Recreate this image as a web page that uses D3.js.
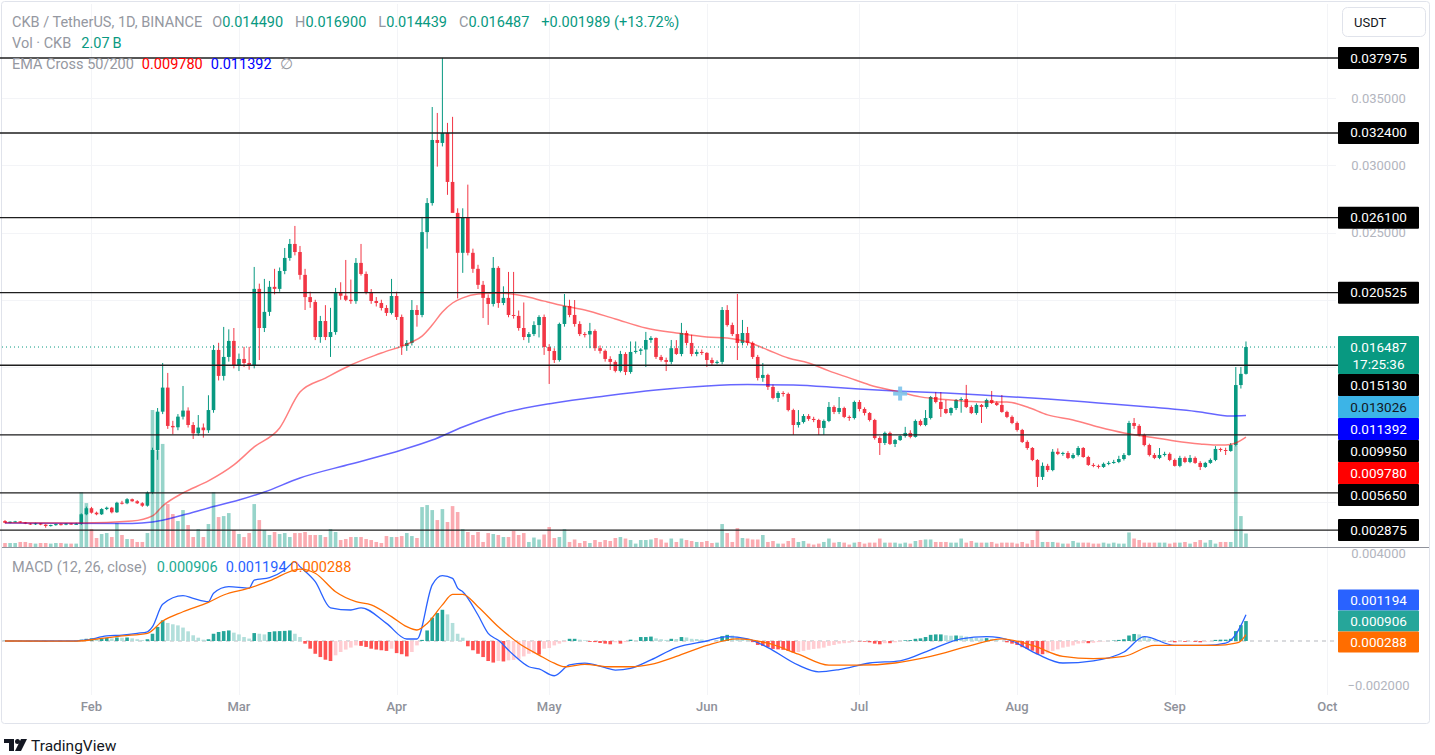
<!DOCTYPE html>
<html><head><meta charset="utf-8">
<script src="https://cdn.jsdelivr.net/npm/d3@7"></script>
<style>
html,body{margin:0;padding:0;background:#fff;}
svg{display:block;font-family:Roboto,"Noto Sans",sans-serif;}
</style></head><body>
<svg id="c" width="1435" height="755"></svg>
<script>
// ---------------- DATA ----------------
const startDate = "2024-01-15";
const endDate = "2024-10-01";
// [open, high, low, close] daily CKB/USDT
const ohlc = [
[.00355,.00362,.00338,.00342],[.00342,.00352,.00338,.00350],[.00350,.00356,.00345,.00352],[.00352,.00355,.00342,.00345],
[.00345,.00348,.00332,.00336],[.00336,.00340,.00326,.00330],[.00330,.00342,.00326,.00338],[.00338,.00340,.00324,.00328],
[.00328,.00332,.00305,.00318],[.00318,.00328,.00314,.00325],[.00325,.00336,.00320,.00332],[.00332,.00338,.00322,.00328],
[.00328,.00340,.00324,.00336],[.00336,.00340,.00326,.00332],[.00332,.00342,.00328,.00334],[.00334,.00412,.00325,.00405],
[.00405,.00462,.00398,.00450],[.00450,.00460,.00410,.00417],[.00417,.00425,.00398,.00405],[.00405,.00450,.00400,.00444],
[.00444,.00462,.00436,.00454],[.00454,.00460,.00412,.00420],[.00420,.00498,.00415,.00491],[.00491,.00505,.00478,.00487],
[.00487,.00525,.00480,.00517],[.00517,.00522,.00498,.00502],[.00502,.00510,.00482,.00487],[.00487,.00495,.00460,.00469],
[.00469,.00575,.00462,.00566],[.00566,.00900,.00555,.00883],[.00883,.01195,.00810,.01168],[.01168,.01530,.01150,.01347],
[.01347,.01456,.01040,.01062],[.01062,.01100,.01000,.01052],[.01052,.01150,.01030,.01131],[.01131,.01359,.01110,.01176],
[.01176,.01200,.01050,.01069],[.01069,.01090,.00965,.01007],[.01007,.01143,.00990,.01050],[.01050,.01080,.00975,.01030],
[.01030,.01290,.01010,.01180],[.01180,.01664,.01160,.01627],[.01627,.01680,.01400,.01434],[.01434,.01798,.01400,.01575],
[.01575,.01780,.01540,.01694],[.01694,.01790,.01490,.01508],[.01508,.01600,.01470,.01560],[.01560,.01650,.01500,.01530],
[.01530,.01650,.01480,.01508],[.01508,.02244,.01490,.02081],[.02081,.02120,.01552,.01790],[.01790,.02155,.01760,.01910],
[.01910,.02140,.01880,.02096],[.02096,.02230,.02040,.02081],[.02081,.02240,.02060,.02214],[.02214,.02385,.02190,.02311],
[.02311,.02452,.02290,.02415],[.02415,.02549,.02330,.02355],[.02355,.02400,.02150,.02185],[.02185,.02230,.01924,.02020],
[.02020,.02060,.01940,.01983],[.01983,.02000,.01700,.01723],[.01723,.01880,.01680,.01842],[.01842,.01960,.01700,.01723],
[.01723,.01940,.01575,.01760],[.01760,.02088,.01740,.02050],[.02050,.02130,.02000,.02030],[.02030,.02296,.01990,.02000],
[.02000,.02150,.01970,.01990],[.01990,.02310,.01970,.02274],[.02274,.02415,.02180,.02192],[.02192,.02210,.02040,.02058],
[.02058,.02080,.01970,.01991],[.01991,.02020,.01950,.01976],[.01976,.02000,.01920,.01939],[.01939,.01960,.01880,.01902],
[.01902,.02155,.01890,.02028],[.02028,.02060,.01850,.01872],[.01872,.01890,.01590,.01656],[.01656,.01700,.01620,.01679],
[.01679,.01998,.01660,.01924],[.01924,.01960,.01800,.01887],[.01887,.02616,.01870,.02503],[.02503,.02756,.02380,.02719],
[.02719,.03433,.02700,.03188],[.03188,.03389,.02990,.03166],[.03166,.03798,.03140,.03240],[.03240,.03315,.02780,.02876],
[.02876,.03360,.02800,.02646],[.02646,.02680,.02010,.02349],[.02349,.02680,.02200,.02609],[.02609,.02856,.02330,.02349],
[.02349,.02380,.02200,.02230],[.02230,.02260,.02080,.02111],[.02111,.02140,.01864,.02014],[.02014,.02040,.01813,.01969],
[.01969,.02318,.01950,.02237],[.02237,.02250,.01940,.01976],[.01976,.02100,.01960,.02014],[.02014,.02207,.01870,.01887],
[.01887,.02207,.01860,.01880],[.01880,.01920,.01770,.01790],[.01790,.01980,.01700,.01723],[.01723,.01760,.01680,.01745],
[.01745,.01840,.01730,.01812],[.01812,.01885,.01720,.01872],[.01872,.01890,.01590,.01649],[.01649,.01670,.01374,.01619],
[.01619,.01640,.01530,.01552],[.01552,.01830,.01540,.01820],[.01820,.02043,.01800,.01954],[.01954,.02000,.01870,.01887],
[.01887,.01998,.01800,.01820],[.01820,.01840,.01730,.01745],[.01745,.01760,.01720,.01742],[.01742,.01828,.01640,.01768],
[.01768,.01780,.01620,.01640],[.01640,.01660,.01600,.01620],[.01620,.01630,.01540,.01560],[.01560,.01580,.01478,.01538],
[.01538,.01550,.01460,.01471],[.01471,.01620,.01460,.01597],[.01597,.01610,.01440,.01463],[.01463,.01690,.01450,.01612],
[.01612,.01690,.01600,.01620],[.01620,.01640,.01590,.01630],[.01630,.01761,.01500,.01701],[.01701,.01730,.01680,.01716],
[.01716,.01720,.01560,.01575],[.01575,.01590,.01540,.01552],[.01552,.01570,.01470,.01538],[.01538,.01701,.01520,.01640],
[.01640,.01700,.01590,.01597],[.01597,.01828,.01580,.01753],[.01753,.01770,.01660,.01679],[.01679,.01740,.01580,.01597],
[.01597,.01630,.01580,.01612],[.01612,.01630,.01590,.01605],[.01605,.01610,.01500,.01552],[.01552,.01570,.01510,.01530],
[.01530,.01550,.01520,.01538],[.01538,.01946,.01520,.01924],[.01924,.01960,.01800,.01812],[.01812,.01830,.01730,.01745],
[.01745,.02043,.01552,.01679],[.01679,.01850,.01660,.01753],[.01753,.01798,.01660,.01679],[.01679,.01690,.01560,.01575],
[.01575,.01590,.01400,.01419],[.01419,.01530,.01390,.01441],[.01441,.01450,.01330,.01352],[.01352,.01370,.01260,.01270],
[.01270,.01320,.01240,.01307],[.01307,.01320,.01280,.01300],[.01300,.01310,.01170,.01180],[.01180,.01190,.00995,.01069],
[.01069,.01180,.01050,.01091],[.01091,.01150,.01080,.01136],[.01136,.01150,.01100,.01114],[.01114,.01130,.01090,.01106],
[.01106,.01115,.00995,.01047],[.01047,.01110,.00995,.01099],[.01099,.01240,.01090,.01203],[.01203,.01215,.01150,.01166],
[.01166,.01277,.01150,.01195],[.01195,.01205,.01120,.01129],[.01129,.01140,.01100,.01121],[.01121,.01250,.01110,.01240],
[.01240,.01255,.01170,.01188],[.01188,.01200,.01140,.01158],[.01158,.01165,.01095,.01106],[.01106,.01115,.00960,.00972],
[.00972,.00985,.00846,.00935],[.00935,.01020,.00920,.01010],[.01010,.01020,.00920,.00928],[.00928,.00965,.00905,.00957],
[.00957,.00995,.00950,.00987],[.00987,.01055,.00975,.01010],[.01010,.01030,.00970,.00980],[.00980,.01110,.00975,.01099],
[.01099,.01110,.01060,.01069],[.01069,.01180,.01060,.01121],[.01121,.01285,.01110,.01277],[.01277,.01314,.01230,.01240],
[.01240,.01314,.01129,.01188],[.01188,.01255,.01150,.01158],[.01158,.01200,.01140,.01195],[.01195,.01262,.01180,.01255],
[.01255,.01275,.01160,.01262],[.01262,.01367,.01195,.01203],[.01203,.01215,.01150,.01158],[.01158,.01230,.01145,.01218],
[.01218,.01225,.01084,.01203],[.01203,.01265,.01190,.01255],[.01255,.01322,.01225,.01233],[.01233,.01245,.01210,.01218],
[.01218,.01292,.01160,.01166],[.01166,.01175,.01120,.01129],[.01129,.01140,.01075,.01084],[.01084,.01095,.01020,.01032],
[.01032,.01040,.00935,.00943],[.00943,.00955,.00885,.00898],[.00898,.00905,.00800,.00809],[.00809,.00815,.00608,.00683],
[.00683,.00790,.00660,.00765],[.00765,.00780,.00720,.00734],[.00734,.00890,.00725,.00870],[.00870,.00895,.00845,.00854],
[.00854,.00870,.00840,.00861],[.00861,.00875,.00815,.00824],[.00824,.00860,.00815,.00846],[.00846,.00912,.00835,.00898],
[.00898,.00905,.00825,.00831],[.00831,.00840,.00765,.00772],[.00772,.00785,.00755,.00765],[.00765,.00775,.00745,.00757],
[.00757,.00790,.00750,.00780],[.00780,.00800,.00770,.00787],[.00787,.00810,.00780,.00794],[.00794,.00840,.00785,.00816],
[.00816,.00860,.00805,.00846],[.00846,.01100,.00840,.01084],[.01084,.01121,.01040,.01062],[.01062,.01075,.00985,.00995],
[.00995,.01005,.00910,.00920],[.00920,.00930,.00835,.00846],[.00846,.00860,.00815,.00824],[.00824,.00898,.00815,.00846],
[.00846,.00870,.00835,.00854],[.00854,.00865,.00800,.00809],[.00809,.00820,.00760,.00765],[.00765,.00840,.00755,.00824],
[.00824,.00835,.00785,.00794],[.00794,.00846,.00785,.00824],[.00824,.00835,.00780,.00787],[.00787,.00800,.00734,.00757],
[.00757,.00795,.00750,.00787],[.00787,.00820,.00780,.00809],[.00809,.00912,.00800,.00891],[.00891,.00900,.00870,.00883],
[.00883,.00900,.00846,.00876],[.00876,.00935,.00870,.00920],[.00920,.01500,.00910,.01366],[.01366,.01500,.01340,.01449],
[.01449,.01690,.014439,.016487]
];
// volume in billions CKB
const volume = [
0.61,0.61,0.61,0.77,0.77,0.61,0.52,0.61,0.61,0.52,0.61,0.61,0.52,0.52,0.52,8.42,6.73,2.75,1.38,1.99,
2.14,1.53,3.67,1.84,1.22,1.22,0.77,0.77,2.14,21.0,14.8,15.8,6.58,5.05,3.98,5.66,3.37,1.53,2.75,1.53,
3.52,8.42,4.59,4.74,5.2,2.6,1.99,1.53,2.14,6.58,4.13,2.6,1.84,2.3,1.99,2.14,1.53,2.14,2.14,2.3,
1.84,1.84,1.84,1.53,2.75,2.3,1.07,1.22,1.53,1.53,1.53,1.22,1.07,0.77,0.61,1.68,1.53,1.53,1.68,2.14,
1.68,1.38,6.12,6.43,5.66,4.13,5.81,3.83,6.27,5.36,2.75,2.3,1.84,2.3,0.77,2.14,1.99,1.84,1.53,1.53,
2.45,1.84,2.14,0.77,1.45,1.15,1.91,3.06,1.38,1.53,2.75,0.77,1.15,0.61,0.92,0.61,1.07,0.77,1.07,0.92,
1.38,1.53,1.3,1.07,0.52,1.07,1.07,1.15,1.38,1.15,0.67,1.3,0.77,1.3,1.07,0.92,0.77,0.77,0.92,0.61,
0.67,3.52,2.14,0.77,2.9,1.38,1.3,1.15,1.15,1.84,0.77,0.92,0.52,0.52,0.92,1.38,0.77,0.92,0.52,0.37,
0.52,0.77,1.3,0.67,0.77,0.67,0.37,0.67,0.77,0.52,0.67,0.67,1.3,0.67,0.67,0.67,0.52,0.67,0.52,0.92,
1.07,1.15,1.15,0.77,0.77,0.77,0.67,0.67,1.3,0.67,0.92,0.67,0.67,0.67,0.77,0.52,0.67,0.67,0.67,0.52,
0.77,0.52,1.07,2.6,0.77,0.77,0.77,0.67,0.52,0.52,0.92,0.67,0.67,0.67,0.52,0.52,0.67,0.52,0.67,0.52,
0.52,2.23,1.3,1.07,0.67,0.67,0.67,0.67,0.67,0.52,0.67,0.67,0.77,0.52,0.77,1.07,0.67,1.07,0.52,0.77,
0.77,0.77,15.6,4.74,2.07
];
// EMA 50 / EMA 200: [day index, value]
const ema50 = [[0,.00343],[15,.00341],[25,.00355],[29,.00393],[31,.00467],[35,.00564],[40,.00653],[45,.00772],
[49,.00906],[54,.01047],[58,.01314],[63,.01418],[68,.01515],[74,.01604],[80,.01686],[82,.01730],[84,.01812],
[86,.01909],[88,.01976],[90,.02014],[93,.02043],[97,.02050],[102,.02028],[106,.01990],[110,.01954],[114,.01924],
[120,.01857],[126,.01790],[132,.01753],[138,.01723],[142,.01716],[146,.01686],[150,.01627],[154,.01567],[158,.01530],
[162,.01471],[166,.01419],[170,.01367],[175,.01322],[180,.01278],[186,.01255],[192,.01240],[197,.01240],[201,.01203],
[205,.01144],[210,.01106],[215,.01054],[220,.01010],[225,.00980],[230,.00950],[235,.00928],[238,.00920],[240,.00920],
[242,.00935],[244,.00978]];
const ema200 = [[0,.00340],[25,.00337],[29,.00348],[35,.00400],[40,.00452],[46,.00511],[51,.00571],[58,.00675],
[68,.00779],[78,.00883],[84,.00957],[90,.01054],[98,.01158],[108,.01233],[118,.01285],[128,.01329],[138,.01359],
[146,.01370],[155,.01367],[165,.01344],[175,.01322],[185,.01307],[195,.01285],[205,.01262],[215,.01233],[225,.01203],
[235,.01166],[241,.01136],[244,.011392]];
// MACD (12,26) line and signal: [day index, value]
const macdLine = [[0,0],[14,0],[16,.000045],[20,.00023],[23.5,.00027],[26,.00035],[28.4,.00042],[29.6,.00065],
[31.6,.00167],[35,.00206],[37.4,.00194],[40.6,.00179],[41.8,.00217],[44.7,.00247],[48,.0024],[49.6,.00277],
[52.8,.00288],[55.3,.00323],[57,.0036],[58.6,.00338],[61,.0027],[64.3,.00151],[68.4,.00141],[70.8,.00151],
[75.7,.0008],[79.4,.00009],[81.4,.00009],[84.7,.00255],[86.7,.00297],[88,.00285],[89.6,.0024],[90.8,.00224],
[93.6,.00118],[95.7,.00035],[97.7,.00003],[100,-.00064],[103,-.00117],[105,-.00127],[108.3,-.00158],[111.6,-.00109],
[114.8,-.00101],[118,-.00121],[120.5,-.00132],[123,-.00124],[127,-.00086],[132,-.0003],[138,0],[142,.0002],
[146,.0001],[150,-.0003],[156,-.0011],[160,-.0014],[164,-.0013],[170,-.001],[176,-.0009],[182,-.0004],[188,.0001],
[193,.0002],[198,0],[203,-.0006],[208,-.001],[214,-.0009],[220,-.0005],[224,.0002],[230,-.0002],[236,-.0002],
[240,-.0001],[242,.0003],[243,.0007],[244,.001194]];
const signalLine = [[0,0],[14.3,-.00001],[19.4,.00012],[23.5,.00023],[28.4,.00035],[31.6,.00091],[35,.00133],
[40.6,.00176],[43.9,.00209],[48,.0024],[52.8,.00273],[58.6,.00327],[61,.00308],[65.9,.00224],[69.2,.00179],
[72.4,.00164],[76.5,.00111],[79.8,.00065],[81.8,.0005],[83.9,.0008],[86.3,.00164],[88.8,.00212],[90.8,.00212],
[93.6,.00156],[97.7,.00065],[101.8,-.0001],[105,-.00064],[108.3,-.00101],[110.8,-.00117],[114.8,-.00106],
[119.7,-.00117],[123.8,-.00117],[127,-.00106],[132,-.0007],[138,-.0002],[144,.0001],[150,-.0001],[156,-.0006],
[162,-.0011],[168,-.0011],[175,-.001],[182,-.0007],[190,-.0002],[196,.0001],[202,-.0002],[208,-.0007],[214,-.0008],
[220,-.0007],[226,-.0002],[232,-.0002],[238,-.0002],[242,-.0001],[243,0],[244,.000288]];
const macdHist = [
.00001,-.00001,.00001,0,-.00002,-.00003,-.00002,-.00003,-.00004,-.00003,-.00002,-.00002,-.00001,-.00001,0,
.00006,.0001,.00012,.0001,.00012,.00014,.00012,.00016,.00015,.00016,.00012,.00008,.00004,.00008,
.00033,.00064,.00094,.00082,.00076,.00071,.00061,.00044,.00026,.00015,.00006,.00008,.00033,.00041,.00045,.00048,
.00038,.0003,.00018,.00011,.00036,.00033,.0003,.00041,.00044,.00045,.00046,.00048,.00033,.00018,-.00012,-.00035,
-.00058,-.00073,-.00085,-.00091,-.00065,-.0005,-.00039,-.0003,-.0002,-.00022,-.00027,-.00035,-.00039,-.00042,
-.00045,-.00035,-.00055,-.0006,-.0007,-.0005,-.0002,.00005,.00048,.00106,.00127,.00142,.00121,.00082,.00033,
.00015,-.00024,-.00042,-.00058,-.00073,-.00091,-.00098,-.00091,-.00093,-.00088,-.00086,-.00083,-.0007,-.00058,
-.00056,-.00062,-.00035,-.00032,-.0002,-.00012,-.00005,.0001,.0001,.00006,.00003,-.00004,-.00005,-.00009,-.00012,
-.00015,-.00006,-.00012,-.00005,.00006,.00002,.00018,
.00018,.0002,.00012,.00008,.00005,.0001,.00009,.00018,.00016,.0001,.00009,.00007,.00002,0,.00001,.00022,.00028,
.00025,.00018,.00014,.00008,-.00005,-.00018,-.00022,-.00028,-.00036,-.00038,-.0004,-.00045,-.00052,-.0005,-.00045,
-.0004,-.00036,-.00034,-.0003,-.00022,-.00018,-.00012,-.0001,-.00008,-.00002,-.00002,-.00003,-.00006,-.00012,
-.00015,-.0001,-.0001,-.00006,-.00002,.00003,.00004,.0001,.00012,.00018,.00028,.0003,.0003,.00026,.00024,.00025,
.00024,.0002,.00015,.00014,.00012,.00013,.0001,.00006,0,-.00006,-.00012,-.00018,-.00028,-.00036,-.00044,-.0006,
-.0006,-.00056,-.00045,-.00038,-.0003,-.00026,-.0002,-.00012,-.0001,-.0001,-.00008,-.00005,-.00002,0,.00002,.00005,
.00008,.00025,.00032,.0003,.00022,.00012,.00006,.00004,.00002,-.00002,-.00006,-.00003,-.00004,-.00002,-.00004,
-.00006,-.00004,-.00002,.00005,.00006,.00006,.0001,.00045,.00072,.000906];
const levels = [0.037975,0.0324,0.0261,0.020525,0.01513,0.00995,0.00565,0.002875];
const priceTicks = [0.035,0.030,0.025,0.020,0.015,0.010,0.005];
const macdTicks = [0.004,-0.002];
const monthTicks = ["2024-02-01","2024-03-01","2024-04-01","2024-05-01","2024-06-01","2024-07-01","2024-08-01","2024-09-01","2024-10-01"];
const monthNames = ["Feb","Mar","Apr","May","Jun","Jul","Aug","Sep","Oct"];
const lastPrice = 0.016487, countdown = "17:25:36";
const ema50Last = 0.009780, ema200Last = 0.011392;
const markerPrice = 0.013026, markerIndex = 176;
const macdLast = 0.001194, signalLast = 0.000288, histLast = 0.000906;

// ---------------- LAYOUT ----------------
const plotR = 1336, axX = 1338, axW = 81;
const pane1 = {top: 4, bottom: 547};
const pane2 = {top: 548, bottom: 695};
const UP = "#089981", DN = "#f23645";
const svg = d3.select("#c");
const t0 = new Date(startDate + "T00:00:00Z");
const x = d3.scaleUtc().domain([t0, new Date(endDate+"T00:00:00Z")]).range([5, 5 + 260*5.086]);
const xi = i => x(d3.utcDay.offset(t0, i));
const y = d3.scaleLinear().domain([0.002875, 0.037975]).range([530.1, 58]);
const yV = d3.scaleLinear().domain([0, 21]).range([pane1.bottom, pane1.bottom - 137]);
const yM = d3.scaleLinear().domain([-0.002, 0.004]).range([685, 553]);

// frame
svg.append("rect").attr("x",1.5).attr("y",1.5).attr("width",1428).attr("height",722)
  .attr("fill","#fff").attr("stroke","#e0e3eb").attr("rx",3);

const defs = svg.append("defs");
defs.append("clipPath").attr("id","p1").append("rect").attr("x",2).attr("y",pane1.top).attr("width",plotR-2).attr("height",pane1.bottom-pane1.top);
defs.append("clipPath").attr("id","p2").append("rect").attr("x",2).attr("y",pane2.top).attr("width",plotR-2).attr("height",pane2.bottom-pane2.top);

// grid
const grid = svg.append("g").attr("stroke","#f3f4f7").attr("stroke-width",1);
monthTicks.forEach(m=>{ const gx = Math.round(x(new Date(m+"T00:00:00Z")))+0.5;
  grid.append("line").attr("x1",gx).attr("x2",gx).attr("y1",pane1.top).attr("y2",pane2.bottom); });
priceTicks.forEach(p=>{ const gy=Math.round(y(p))+0.5; grid.append("line").attr("x1",2).attr("x2",plotR).attr("y1",gy).attr("y2",gy); });

// ------------- price pane -------------
const g1 = svg.append("g").attr("clip-path","url(#p1)");
g1.append("g").selectAll("rect").data(volume).join("rect")
  .attr("x",(d,i)=>xi(i)-1.8).attr("width",3.6)
  .attr("y",d=>yV(d)).attr("height",d=>pane1.bottom - yV(d))
  .attr("fill",(d,i)=> ohlc[i][3] >= ohlc[i][0] ? "rgba(8,153,129,0.42)" : "rgba(242,54,69,0.42)");
const cg = g1.append("g");
ohlc.forEach((d,i)=>{
  const [o,h,l,c] = d, col = c>=o?UP:DN, cx = xi(i);
  cg.append("line").attr("x1",cx).attr("x2",cx).attr("y1",y(h)).attr("y2",y(l)).attr("stroke",col).attr("stroke-width",1);
  const top = y(Math.max(o,c)), bot = y(Math.min(o,c));
  cg.append("rect").attr("x",cx-1.8).attr("width",3.6).attr("y",top).attr("height",Math.max(1,bot-top)).attr("fill",col);
});
const ln = d3.line().x(d=>xi(d[0])).y(d=>y(d[1])).curve(d3.curveMonotoneX);
g1.append("path").attr("d",ln(ema200)).attr("fill","none").attr("stroke","rgba(0,0,255,0.6)").attr("stroke-width",1.5);
g1.append("path").attr("d",ln(ema50)).attr("fill","none").attr("stroke","rgba(255,0,0,0.5)").attr("stroke-width",1.5);
levels.forEach(p=>{ const ly = y(p);
  svg.append("line").attr("x1",0).attr("x2",axX).attr("y1",ly).attr("y2",ly).attr("stroke","#1e1e1e").attr("stroke-width",1.3); });
svg.append("line").attr("x1",2).attr("x2",axX).attr("y1",y(lastPrice)).attr("y2",y(lastPrice))
  .attr("stroke",UP).attr("stroke-width",1).attr("stroke-dasharray","1,3");
const mk = svg.append("g").attr("fill","#7cc4ec").attr("opacity",0.9);
mk.append("rect").attr("x",xi(markerIndex)-7).attr("y",y(markerPrice)-2).attr("width",14).attr("height",4);
mk.append("rect").attr("x",xi(markerIndex)-2).attr("y",y(markerPrice)-7).attr("width",4).attr("height",14);

svg.append("line").attr("x1",2).attr("x2",1429).attr("y1",pane1.bottom+0.5).attr("y2",pane1.bottom+0.5).attr("stroke","#8f929b").attr("stroke-width",1.2);

// ------------- MACD pane -------------
const g2 = svg.append("g").attr("clip-path","url(#p2)");
g2.append("line").attr("x1",2).attr("x2",plotR).attr("y1",yM(0)).attr("y2",yM(0)).attr("stroke","rgba(120,123,134,0.55)").attr("stroke-dasharray","4,4");
g2.append("g").selectAll("rect").data(macdHist).join("rect")
  .attr("x",(d,i)=>xi(i)-1.8).attr("width",3.6)
  .attr("y",d=>Math.min(yM(d),yM(0))).attr("height",d=>Math.abs(yM(d)-yM(0)))
  .attr("fill",(d,i)=>{ const p = i>0?macdHist[i-1]:0;
     if (d>=0) return d>=p ? "#26a69a" : "#b2dfdb"; return d<=p ? "#ff5252" : "#ffcdd2"; });
const lm = d3.line().x(d=>xi(d[0])).y(d=>yM(d[1])).curve(d3.curveMonotoneX);
g2.append("path").attr("d",lm(macdLine)).attr("fill","none").attr("stroke","#2962ff").attr("stroke-width",1.3);
g2.append("path").attr("d",lm(signalLine)).attr("fill","none").attr("stroke","#ff6d00").attr("stroke-width",1.3);

// ------------- stacked axis labels -------------
const fmt = d3.format(".6f");
function stack(items, anchor){
  items.sort((a,b)=>a.y-b.y);
  const ai = items.findIndex(d=>d.key===anchor);
  for (let i=ai+1;i<items.length;i++){ const p=items[i-1];
    const minTop = p.y - p.off + p.h; if (items[i].y - items[i].off < minTop) items[i].y = minTop + items[i].off; }
  for (let i=ai-1;i>=0;i--){ const n=items[i+1];
    const maxBot = n.y - n.off; if (items[i].y - items[i].off + items[i].h > maxBot) items[i].y = maxBot - items[i].h + items[i].off; }
  return items;
}
const pl = levels.map(p=>({key:"l"+p, y:y(p), h:22, off:11, bg:"#000", fg:"#fff", lines:[fmt(p)]}));
pl.push({key:"last", y:y(lastPrice), h:38, off:11, bg:UP, fg:"#fff", lines:[fmt(lastPrice), countdown]});
pl.push({key:"mk", y:y(markerPrice), h:22, off:11, bg:"#3cb4e7", fg:"#131722", lines:[fmt(markerPrice)]});
pl.push({key:"e200", y:y(ema200Last), h:22, off:11, bg:"#0000ff", fg:"#fff", lines:[fmt(ema200Last)]});
pl.push({key:"e50", y:y(ema50Last), h:22, off:11, bg:"#ff0000", fg:"#fff", lines:[fmt(ema50Last)]});
stack(pl,"last");
const ml = [
 {key:"m", y:yM(macdLast), h:21, off:10.5, bg:"#2962ff", fg:"#fff", lines:[fmt(macdLast)]},
 {key:"h", y:yM(histLast), h:21, off:10.5, bg:"#26a69a", fg:"#fff", lines:[fmt(histLast)]},
 {key:"s", y:yM(signalLast), h:21, off:10.5, bg:"#ff6d00", fg:"#fff", lines:[fmt(signalLast)]}];
stack(ml,"h");
const boxes = pl.concat(ml);
// grey tick labels, skipped where a box would hide most of them
function hidden(cy){ return boxes.some(b=> cy-5 >= b.y-b.off-3 && cy+5 <= b.y-b.off+b.h+3); }
const axG = svg.append("g").attr("font-size",13).attr("fill","#b2b5be").attr("text-anchor","middle");
priceTicks.forEach(p=>{ if(!hidden(y(p))) axG.append("text").attr("x",axX+axW/2).attr("y",y(p)+4.5).text(fmt(p)); });
macdTicks.forEach(p=>{ if(!hidden(yM(p))) axG.append("text").attr("x",axX+axW/2).attr("y",yM(p)+4.5).text(p<0?"\u2212"+fmt(-p):fmt(p)); });
boxes.forEach(d=>{
  svg.append("rect").attr("x",axX).attr("y",d.y-d.off).attr("width",axW).attr("height",d.h).attr("fill",d.bg).attr("rx",1);
  d.lines.forEach((t,k)=> svg.append("text").attr("x",axX+axW/2).attr("y",d.y-d.off+15.5+k*17)
    .attr("text-anchor","middle").attr("font-size",13.5).attr("fill",d.fg).text(t));
});
const tG = svg.append("g").attr("font-size",13).attr("fill","#8f929b").attr("font-weight",500).attr("text-anchor","middle");
monthTicks.forEach((m,k)=> tG.append("text").attr("x",x(new Date(m+"T00:00:00Z"))).attr("y",711).text(monthNames[k]));

// USDT button
svg.append("rect").attr("x",1342.5).attr("y",7.5).attr("width",83).attr("height",29).attr("rx",5).attr("fill","#fff").attr("stroke","#e0e3eb");
svg.append("text").attr("x",1354).attr("y",27).attr("font-size",13).attr("fill","#131722").text("USDT");

// ------------- legends -------------
function legend(yy, parts, size){
  const t = svg.append("text").attr("x",12).attr("y",yy).attr("font-size",size||14.5);
  parts.forEach(p=> t.append("tspan").attr("fill",p[1]).attr("dx",p[2]||0).text(p[0]));
}
const G="#9598a1";
legend(27, [["CKB / TetherUS, 1D, BINANCE",G],["O",G,10],[fmt(ohlc[244][0]),UP],["H",G,12],[fmt(ohlc[244][1]),UP],
  ["L",G,12],[fmt(ohlc[244][2]),UP],["C",G,12],[fmt(ohlc[244][3]),UP],["+0.001989 (+13.72%)",UP,12]]);
legend(48, [["Vol \u00b7 CKB",G],["2.07\u2009B",UP,10]]);
legend(69, [["EMA Cross 50/200",G],[fmt(ema50Last),"#ff0000",8],[fmt(ema200Last),"#0000ff",8],["\u2205",G,8]]);
legend(572, [["MACD (12, 26, close)",G],[fmt(histLast),"#22ab94",10],[fmt(macdLast),"#2962ff",8],[fmt(signalLast),"#ff6d00",4]]);

// TradingView logo
const lg = svg.append("g").attr("fill","#131722");
lg.append("path").attr("d","M4 739 h10 v12 h-5 v-8 h-5 z");
lg.append("circle").attr("cx",17.5).attr("cy",741.5).attr("r",2.5);
lg.append("path").attr("d","M21 739 h6 l-6 12 h-6 z");
svg.append("text").attr("x",31).attr("y",751).attr("font-size",15.5).attr("fill","#131722").text("TradingView");
</script>
</body></html>
